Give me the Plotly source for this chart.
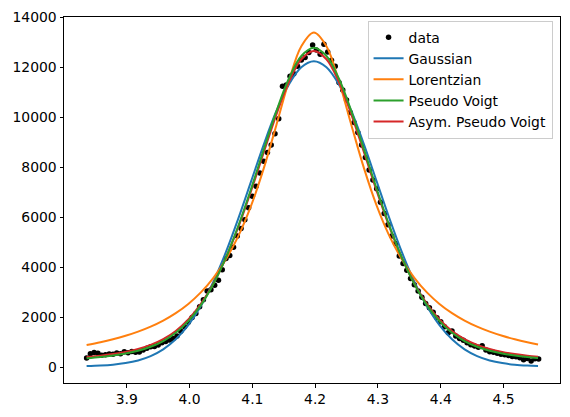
import plotly.graph_objects as go

# measured data points
data_x = [3.836, 3.842, 3.848, 3.854, 3.860, 3.866, 3.872, 3.878, 3.884, 3.890,
          3.896, 3.902, 3.908, 3.914, 3.920, 3.926, 3.932, 3.938, 3.944, 3.950,
          3.956, 3.962, 3.968, 3.974, 3.980, 3.986, 3.992, 3.998, 4.004, 4.010,
          4.016, 4.022, 4.028, 4.034, 4.040, 4.046, 4.052, 4.058, 4.064, 4.070,
          4.076, 4.082, 4.088, 4.094, 4.100, 4.106, 4.112, 4.118, 4.124, 4.130,
          4.136, 4.142, 4.148, 4.154, 4.160, 4.166, 4.172, 4.178, 4.184, 4.190,
          4.196, 4.202, 4.208, 4.214, 4.220, 4.226, 4.232, 4.238, 4.244, 4.250,
          4.256, 4.262, 4.268, 4.274, 4.280, 4.286, 4.292, 4.298, 4.304, 4.310,
          4.316, 4.322, 4.328, 4.334, 4.340, 4.346, 4.352, 4.358, 4.364, 4.370,
          4.376, 4.382, 4.388, 4.394, 4.400, 4.406, 4.412, 4.418, 4.424, 4.430,
          4.436, 4.442, 4.448, 4.454, 4.460, 4.466, 4.472, 4.478, 4.484, 4.490,
          4.496, 4.502, 4.508, 4.514, 4.520, 4.526, 4.532, 4.538, 4.544, 4.550,
          4.556]
data_y = [370, 540, 590, 560, 480, 500, 530, 520, 570, 540,
          620, 580, 630, 600, 610, 690, 760, 820, 830, 890,
          980, 1030, 1090, 1150, 1250, 1440, 1620, 1800, 1990, 2150,
          2420, 2700, 3050, 3100, 3280, 3480, 3900, 4350, 4470, 4800,
          5250, 5550, 5900, 6380, 6850, 7250, 7780, 8250, 8600, 8900,
          9350, 9950, 11250, 11300, 11650, 11750, 12050, 12300, 12400, 12600,
          12900, 12700, 12530, 12930, 12620, 12290, 12050, 11400, 11100, 10700,
          10200, 9800, 9400, 8900, 8400, 7900, 7500, 7150, 6600, 6150,
          5700, 5250, 4950, 4450, 4150, 3880, 3550, 3300, 3050, 2800,
          2550, 2380, 2200, 1980, 1820, 1620, 1380, 1450, 1250, 1150,
          1080, 980, 900, 850, 800, 860, 690, 620, 600, 560,
          520, 500, 470, 430, 420, 380, 300, 350, 250, 340,
          330]

# fitted curves (sampled)
fit_x = [3.836, 3.858, 3.878, 3.898, 3.918, 3.938, 3.958, 3.978, 3.998, 4.018,
         4.038, 4.058, 4.078, 4.098, 4.118, 4.138, 4.158, 4.178, 4.198, 4.218,
         4.238, 4.258, 4.278, 4.298, 4.318, 4.338, 4.358, 4.378, 4.398, 4.418,
         4.438, 4.458, 4.478, 4.498, 4.518, 4.538, 4.555]
gauss_y = [47, 68, 103, 166, 272, 446, 716, 1117, 1684, 2448,
           3428, 4616, 5978, 7442, 8904, 10237, 11310, 12008, 12250, 12008,
           11310, 10237, 8904, 7442, 5978, 4616, 3428, 2448, 1684, 1117,
           716, 446, 272, 166, 103, 68, 51]
lorentz_y = [891, 1001, 1119, 1259, 1425, 1625, 1868, 2166, 2535, 2996,
             3580, 4323, 5269, 6468, 7949, 9670, 11438, 12849, 13400, 12849,
             11438, 9670, 7949, 6468, 5269, 4323, 3580, 2996, 2535, 2166,
             1868, 1625, 1425, 1259, 1119, 1001, 914]
pvoigt_y = [361, 411, 470, 550, 660, 819, 1049, 1380, 1847, 2487,
            3332, 4399, 5683, 7143, 8700, 10225, 11547, 12461, 12790, 12461,
            11547, 10225, 8700, 7143, 5683, 4399, 3332, 2487, 1847, 1380,
            1049, 819, 660, 550, 470, 411, 372]
apvoigt_y = [411, 466, 531, 616, 731, 894, 1125, 1453, 1911, 2535,
             3355, 4390, 5637, 7060, 8587, 10094, 11411, 12328, 12660, 12328,
             11411, 10094, 8587, 7060, 5637, 4390, 3355, 2535, 1911, 1453,
             1125, 894, 731, 616, 531, 466, 422]

x_ticks = [3.9, 4.0, 4.1, 4.2, 4.3, 4.4, 4.5]
y_ticks = [0, 2000, 4000, 6000, 8000, 10000, 12000, 14000]

FONT = "DejaVu Sans"
LW = 2.0

fig = go.Figure()
fig.add_trace(go.Scatter(x=data_x, y=data_y, mode="markers", name="data",
                         marker=dict(color="black", size=5.5), legendrank=1))
fig.add_trace(go.Scatter(x=fit_x, y=gauss_y, mode="lines", name="Gaussian",
                         line=dict(color="#1f77b4", width=LW, shape="spline"), legendrank=2))
fig.add_trace(go.Scatter(x=fit_x, y=lorentz_y, mode="lines", name="Lorentzian",
                         line=dict(color="#ff7f0e", width=LW, shape="spline"), legendrank=3))
fig.add_trace(go.Scatter(x=fit_x, y=apvoigt_y, mode="lines", name="Asym. Pseudo Voigt",
                         line=dict(color="#d62728", width=LW, shape="spline"), legendrank=5))
fig.add_trace(go.Scatter(x=fit_x, y=pvoigt_y, mode="lines", name="Pseudo Voigt",
                         line=dict(color="#2ca02c", width=LW, shape="spline"), legendrank=4))

axis_common = dict(showline=True, linecolor="black", linewidth=1, mirror=True,
                   ticks="outside", ticklen=3.5, tickwidth=1, tickcolor="black",
                   showgrid=False, zeroline=False,
                   tickfont=dict(family=FONT, size=13.9, color="black"))

fig.update_xaxes(range=[3.800, 4.590], tickvals=x_ticks,
                 ticktext=[f"{v:.1f}" for v in x_ticks], **axis_common)
fig.update_yaxes(range=[-630, 14020], tickvals=y_ticks,
                 ticktext=[str(v) for v in y_ticks], **axis_common)

fig.update_layout(
    width=570, height=417,
    margin=dict(l=64, r=9, t=14, b=34),
    paper_bgcolor="white", plot_bgcolor="white",
    font=dict(family=FONT, size=13.9, color="black"),
    showlegend=True,
    legend=dict(x=0.985, y=0.99, xanchor="right", yanchor="top",
                bgcolor="rgba(255,255,255,0.8)", bordercolor="#cccccc", borderwidth=1,
                font=dict(family=FONT, size=13.9, color="black"),
                itemwidth=30, traceorder="normal"),
)

fig.write_html(
    "out.html",
    config={"displayModeBar": False},
    post_script="document.body.style.margin='0';document.body.style.padding='0';"
                "document.body.style.overflow='hidden';",
)
